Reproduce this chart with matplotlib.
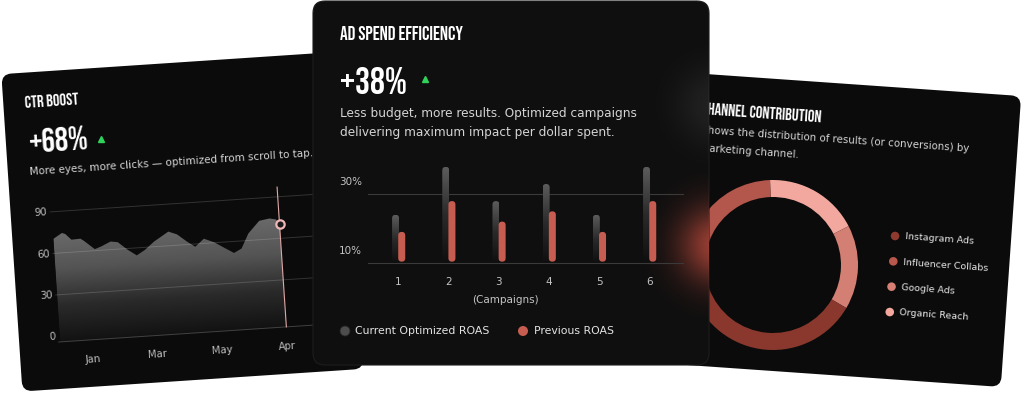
import numpy as np
import matplotlib
matplotlib.use("Agg")
import matplotlib.pyplot as plt
from matplotlib import font_manager
from matplotlib.patches import FancyBboxPatch, Circle
from matplotlib.transforms import Affine2D, ScaledTranslation, blended_transform_factory
from matplotlib.colors import LinearSegmentedColormap, to_rgb

# ---------------- data ----------------
# CTR boost area chart, x in month steps (Jan = 0)
ctr_x = [-0.49, -0.35, -0.30, -0.21, -0.07, -0.02, 0.14, 0.24, 0.39, 0.50,
         0.65, 0.78, 0.91, 1.06, 1.29, 1.42, 1.57, 1.69, 1.83, 1.99,
         2.11, 2.28, 2.40, 2.52, 2.70, 2.86, 2.96, 3.01]
ctr_y = [70.4, 74.3, 73.4, 69.0, 69.3, 67.6, 61.1, 62.7, 65.8, 65.0,
         58.9, 54.6, 58.1, 63.7, 70.2, 67.8, 62.0, 58.0, 63.4, 60.2,
         56.6, 51.7, 54.5, 65.0, 73.6, 74.8, 73.8, 70.2]
ctr_ticks = [0, 1, 2, 3]
ctr_labels = ["Jan", "Mar", "May", "Apr"]
ctr_yticks = [0, 30, 60, 90]

# Ad spend efficiency bars
campaigns = [1, 2, 3, 4, 5, 6]
roas_current = [24, 38, 28, 33, 24, 38]
roas_previous = [19, 28, 22, 25, 19, 28]
roas_ticks = [10, 30]

# Channel contribution donut
channels = ["Instagram Ads", "Influencer Collabs", "Google Ads", "Organic Reach"]
channel_share = [36, 30, 16, 18]
channel_colors = ["#8a382d", "#b3564b", "#d47f73", "#f2a89e"]
legend_colors = ["#8e3a2f", "#b8584c", "#d77f73", "#f4a79c"]

# ---------------- fonts ----------------
names = {f.name for f in font_manager.fontManager.ttflist}
COND = next((n for n in ["Bebas Neue", "Oswald", "Roboto Condensed", "Liberation Sans Narrow",
                         "DejaVu Sans Condensed"] if n in names), "DejaVu Sans")
BODY = "DejaVu Sans"

W, H = 1024, 394
fig = plt.figure(figsize=(10.24, 3.94), dpi=100)
fig.patch.set_facecolor("white")


def layer(z):
    ax = fig.add_axes([0, 0, 1, 1], zorder=z)
    ax.set_xlim(0, W)
    ax.set_ylim(0, H)
    ax.axis("off")
    return ax


def card_tf(ax, cx, cy, ang):
    # local card coords (origin at card centre, y up) -> pixels
    return Affine2D().rotate_deg(ang).translate(cx, H - cy) + ax.transData


def title(ax, x, y, s, size, tf, rot=0, **kw):
    ax.text(x, y, s, transform=tf, rotation=rot, rotation_mode="anchor", ha="left",
            va="center", color="white", family=COND, fontstretch="condensed",
            fontweight="bold", fontsize=size, zorder=4, **kw)


def body(ax, x, y, s, size, tf, rot=0, color="#d4d4d4", **kw):
    ax.text(x, y, s, transform=tf, rotation=rot, rotation_mode="anchor",
            va="center", color=color, family=BODY, fontsize=size, zorder=4, **kw)


grad = np.linspace(0, 1, 256).reshape(-1, 1)

# ================= right card: channel contribution =================
axR = layer(1)
angR = -4.0
tfR = card_tf(axR, 836.4, 229.3, angR)
axR.add_patch(FancyBboxPatch((-175, -145.8), 350, 291.6, boxstyle="round,pad=0,rounding_size=10",
                             fc="#0b0b0b", ec="none", transform=tfR))
title(axR, -143, 111.8, "CHANNEL CONTRIBUTION", 12, tfR, angR)
body(axR, -142, 89.4, "Shows the distribution of results (or conversions) by", 7.4, tfR, angR)
body(axR, -142, 71.4, "marketing channel.", 7.4, tfR, angR)
for i, (name, col) in enumerate(zip(channels, legend_colors)):
    yl = -2.6 - 25.4 * i
    axR.add_patch(Circle((59, yl), 4.3, fc=col, ec="none", transform=tfR))
    body(axR, 69, yl, name, 6.8, tfR, angR, color="#e6e6e6")

# donut
R_px = 85
axD = fig.add_axes([(773 - R_px * 1.05) / W, (H - 265 - R_px * 1.05) / H,
                    2.1 * R_px / W, 2.1 * R_px / H], zorder=2)
order = [3, 2, 0, 1]
axD.pie([channel_share[i] for i in order], colors=[channel_colors[i] for i in order],
        startangle=92, counterclock=False, radius=1,
        wedgeprops=dict(width=0.2, linewidth=0.4, edgecolor="none"))
axD.set_xlim(-1.05, 1.05)
axD.set_ylim(-1.05, 1.05)
axD.axis("off")

# ================= left card: CTR boost =================
axL = layer(3)
angL = 3.8
tfL = card_tf(axL, 182.5, 221.5, angL)
axL.add_patch(FancyBboxPatch((-171, -159), 342, 318, boxstyle="round,pad=0,rounding_size=10",
                             fc="#0b0b0b", ec="none", transform=tfL, zorder=1))
title(axL, -149.2, 129.7, "CTR BOOST", 12, tfL, angL)
title(axL, -148.9, 90.5, "+68%", 24, tfL, angL)
axL.plot(-75.8, 87.7, marker="^", ms=5, color="#2fd35c", transform=tfL)
body(axL, -148.9, 59.5, "More eyes, more clicks \u2014 optimized from scroll to tap.", 7.5, tfL, angL)

tf_ctr = Affine2D().scale(64.8, 1.387).translate(-98.4, -106.5) + tfL
base = -4
poly = axL.fill_between(ctr_x, ctr_y, base, transform=tf_ctr, facecolor="none", lw=0)
cmap = LinearSegmentedColormap.from_list("ctr", ["#121212", "#2a2a2a", "#545454", "#6a6a6a"])
im = axL.imshow(grad, cmap=cmap, origin="lower", aspect="auto", interpolation="bilinear",
                extent=(min(ctr_x), max(ctr_x), base, max(ctr_y)), transform=tf_ctr, zorder=1.5)
im.set_clip_path(poly.get_paths()[0], tf_ctr)

for v in ctr_yticks[1:]:
    axL.plot([-0.51, 3.6], [v, v], transform=tf_ctr, color="white", alpha=0.16, lw=0.7)
axL.plot([-0.51, 3.6], [base, base], transform=tf_ctr, color="white", alpha=0.22, lw=0.7)
for v in ctr_yticks:
    axL.text(-0.56, v, str(v), transform=tf_ctr, rotation=angL, rotation_mode="anchor",
             ha="right", va="center", color="#bdbdbd", family=BODY, fontsize=7.3)
for t, lab in zip(ctr_ticks, ctr_labels):
    axL.text(t, -17.9, lab, transform=tf_ctr, rotation=angL, rotation_mode="anchor",
             ha="center", va="center", color="#bdbdbd", family=BODY, fontsize=7.3)
axL.plot([ctr_x[-1]] * 2, [base, 97], transform=tf_ctr, color="#e0a8a8", lw=0.8)
axL.plot(ctr_x[-1], ctr_y[-1], "o", ms=6, mfc="#1a1a1a", mec="#f2b6b6", mew=1.6, transform=tf_ctr)

# ================= centre card: ad spend efficiency =================
axC = layer(5)
card = FancyBboxPatch((313, H - 365), 396, 364, boxstyle="round,pad=0,rounding_size=12",
                      fc="#0f0f0f", ec="#1d1d1d", lw=0.8, zorder=1)
axC.add_patch(card)

yy, xx = np.mgrid[-1:1:200j, -1:1:200j]
dist = np.hypot(xx, yy)


def glow(cx, cy, r, col, a):
    g = np.zeros((200, 200, 4))
    g[..., :3] = to_rgb(col)
    g[..., 3] = a * np.exp(-(dist * 1.9) ** 2)
    gi = axC.imshow(g, extent=(cx - r, cx + r, H - cy - r, H - cy + r), origin="lower",
                    aspect="auto", interpolation="bilinear", zorder=1.5)
    gi.set_clip_path(card)


glow(716, 105, 75, "#ffffff", 0.08)
glow(718, 245, 72, "#b4483a", 0.85)

title(axC, 340, H - 33, "AD SPEND EFFICIENCY", 13.8, axC.transData)
title(axC, 340, H - 80, "+38%", 27, axC.transData)
axC.plot(425, H - 79, marker="^", ms=5, color="#2fd35c", zorder=4)
body(axC, 340, H - 113, "Less budget, more results. Optimized campaigns", 8.7, axC.transData)
body(axC, 340, H - 132, "delivering maximum impact per dollar spent.", 8.7, axC.transData)

# legend
axC.add_patch(Circle((345, H - 331), 5, fc="#4d4d4d", ec="#262626", lw=0.6, zorder=4))
body(axC, 355, H - 331, "Current Optimized ROAS", 7.8, axC.transData, color="#e4e4e4")
axC.add_patch(Circle((523, H - 331), 5, fc="#c75d50", ec="none", zorder=4))
body(axC, 534, H - 331, "Previous ROAS", 7.8, axC.transData, color="#e4e4e4")

# bar chart axes
axB = fig.add_axes([368 / W, (H - 262.7) / H, 315 / W, 102.7 / H], zorder=6)
axB.patch.set_alpha(0)
xlo, xhi, ylo, yhi = 0.396, 6.671, 10, 40
for s in axB.spines.values():
    s.set_visible(False)
for v in roas_ticks:
    axB.axhline(v, color="#3a3a3a", lw=0.8, zorder=0, clip_on=False)

ppx = 315 / (xhi - xlo)
ppy = 102.7 / (yhi - ylo)
bw = 7 / ppx
bar_cmap = LinearSegmentedColormap.from_list("bar", ["#0f0f0f", "#2a2a2a", "#5c5c5c"])
for c, cur, prev in zip(campaigns, roas_current, roas_previous):
    xg = c - 0.055
    clip = FancyBboxPatch((xg - bw / 2, ylo), bw, cur - ylo,
                          boxstyle=f"round,pad=0,rounding_size={bw / 2}",
                          mutation_aspect=ppx / ppy, transform=axB.transData)
    gi = axB.imshow(grad, cmap=bar_cmap, origin="lower", aspect="auto", interpolation="bilinear",
                    extent=(xg - bw / 2, xg + bw / 2, ylo, cur), zorder=2)
    gi.set_clip_path(clip)
    xr = c + 0.068
    axB.add_patch(FancyBboxPatch((xr - bw / 2, ylo + 0.3), bw, prev - ylo - 0.3,
                                 boxstyle=f"round,pad=0,rounding_size={bw / 2}",
                                 mutation_aspect=ppx / ppy, fc="#c75d50", ec="none", zorder=3))

axB.set_xlim(xlo, xhi)
axB.set_ylim(ylo, yhi)
axB.set_xticks(campaigns)
axB.set_xticklabels([str(c) for c in campaigns])
axB.tick_params(axis="x", length=0, pad=10, labelsize=7.5, labelcolor="#c4c4c4")
for lab in axB.get_xticklabels():
    lab.set_family(BODY)
axB.set_yticks([])
off = ScaledTranslation(-6 / 100, 12 / 100, fig.dpi_scale_trans)
bt = blended_transform_factory(axB.transAxes, axB.transData)
for v in roas_ticks:
    axB.text(0, v, f"{v}%", transform=bt + off, ha="right", va="center",
             color="#c4c4c4", family=BODY, fontsize=7.5)
axB.text((505.7 - 368) / 315, -0.363, "(Campaigns)", transform=axB.transAxes, ha="center",
         va="center", color="#c4c4c4", family=BODY, fontsize=7.5)

for ax in (axR, axL, axC):
    ax.set_xlim(0, W)
    ax.set_ylim(0, H)

fig.savefig("out.png", dpi=100, facecolor="white")
